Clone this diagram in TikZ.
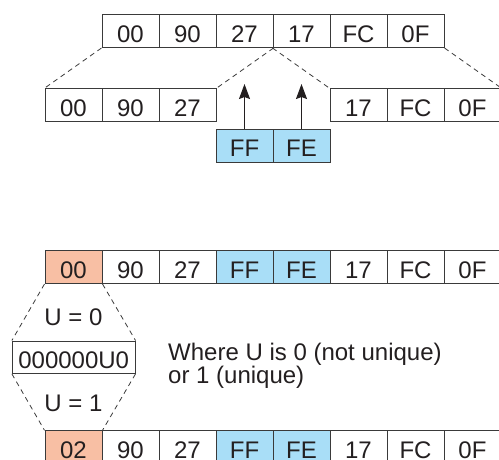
\documentclass[tikz,border=0pt]{standalone}
\usepackage{fontspec}
\setmainfont{Liberation Sans}
\usetikzlibrary{arrows.meta}
\definecolor{salmon}{HTML}{F8BFA4}
\definecolor{skyb}{HTML}{A9DEF7}
\definecolor{ink}{HTML}{231F20}
\definecolor{edge}{HTML}{3A3A3A}
\begin{document}
\begin{tikzpicture}[x=1pt,y=-1pt,
  cell/.style={draw=edge, line width=1pt, minimum width=57pt, minimum height=33pt,
    inner sep=0pt, text height=22pt, text depth=0pt, text=ink,
    font=\fontsize{24}{24}\selectfont},
  hi/.style={fill=salmon},
  bl/.style={fill=skyb},
  lbl/.style={inner sep=0pt, text=ink, font=\fontsize{24}{22.7}\selectfont},
  dline/.style={draw=edge, line width=0.8pt, dash pattern=on 5pt off 4pt},
  up/.style={draw=ink, line width=1.2pt, -{Stealth[length=15pt,width=11pt,inset=2pt]}}]
\clip (0,0) rectangle (499,459);
% top row
\foreach \t [count=\i] in {00,90,27,17,FC,0F}
  \node[cell] (t\i) at ({73.5+57*\i},31) {\t};
% split rows
\foreach \t [count=\i] in {00,90,27}
  \node[cell] (l\i) at ({16.5+57*\i},105.2) {\t};
\foreach \t [count=\i] in {17,FC,0F}
  \node[cell] (r\i) at ({301.5+57*\i},105.2) {\t};
\draw[dline] (t1.south west) -- (l1.north west);
\draw[dline] (t3.south east) -- (l3.north east);
\draw[dline] (t4.south west) -- (r1.north west);
\draw[dline] (t6.south east) -- (r3.north east);
% inserted bytes
\node[cell,bl] (f1) at (244.5,145.5) {FF};
\node[cell,bl] (f2) at (301.5,145.5) {FE};
\coordinate (a1) at (244.5,84);
\coordinate (a2) at (301.5,84);
\draw[up] (f1.north) -- (a1);
\draw[up] (f2.north) -- (a2);
% result rows
\foreach \t [count=\i] in {00,90,27,FF,FE,17,FC,0F}
  \node[cell] (b\i) at ({16.5+57*\i},267) {\t};
\foreach \t [count=\i] in {02,90,27,FF,FE,17,FC,0F}
  \node[cell] (c\i) at ({16.5+57*\i},447.3) {\t};
\node[cell,hi] at (b1) {00};
\node[cell,bl] at (b4) {FF};
\node[cell,bl] at (b5) {FE};
\node[cell,hi] at (c1) {02};
\node[cell,bl] at (c4) {FF};
\node[cell,bl] at (c5) {FE};
% expansion
\node[cell, minimum width=122.7pt, minimum height=32.3pt] (u) at (73.7,357.2) {000000U0};
\draw[dline] (b1.south west) -- (u.north west);
\draw[dline] (b1.south east) -- (u.north east);
\draw[dline] (u.south west) -- (c1.north west);
\draw[dline] (u.south east) -- (c1.north east);
\node[lbl] (u0) at (73.5,317) {U = 0};
\node[lbl] (u1) at (73.5,403) {U = 1};
\node[lbl, anchor=base west, align=left] (note) at (168,383.4) {Where U is 0 (not unique)\\or 1 (unique)};
\end{tikzpicture}
\end{document}
